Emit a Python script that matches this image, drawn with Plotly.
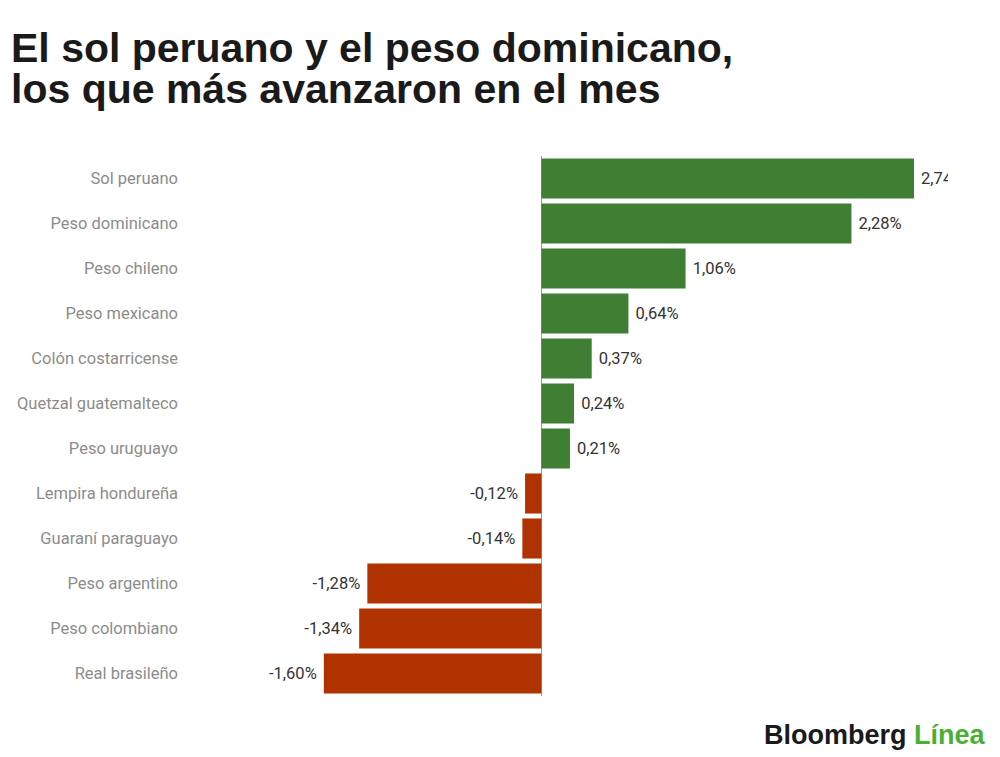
import plotly.graph_objects as go

# currencies, top to bottom
monedas = [
    "Sol peruano", "Peso dominicano", "Peso chileno", "Peso mexicano",
    "Colón costarricense", "Quetzal guatemalteco", "Peso uruguayo",
    "Lempira hondureña", "Guaraní paraguayo", "Peso argentino",
    "Peso colombiano", "Real brasileño",
]
variacion = [2.74, 2.28, 1.06, 0.64, 0.37, 0.24, 0.21,
             -0.12, -0.14, -1.28, -1.34, -1.60]

titulo_1 = "El sol peruano y el peso dominicano,"
titulo_2 = "los que más avanzaron en el mes"

VERDE = "#3e7f33"
ROJO = "#b03200"
NBSP = "\u00a0"

colores = [VERDE if v >= 0 else ROJO for v in variacion]
# pad the label on the side facing the bar
etiquetas = []
for v in variacion:
    s = f"{v:.2f}%".replace(".", ",")
    etiquetas.append(NBSP + s if v >= 0 else s + NBSP)

# margins (page body adds 8px offset)
L, R, T, B = 171, 60, 148, 69
plot_w = 1000 - L - R
plot_h = 757 - T - B


def px_x(p):
    return (p - L) / plot_w


def px_y(p):
    return 1 + (T - p) / plot_h


fig = go.Figure(go.Bar(
    x=variacion,
    y=monedas,
    orientation="h",
    marker=dict(color=colores, line=dict(width=0)),
    text=etiquetas,
    textposition="outside",
    textfont=dict(family="Roboto", size=16.5, color="#333333"),
    cliponaxis=True,
    hoverinfo="skip",
))

fig.update_layout(
    width=1000,
    height=757,
    paper_bgcolor="white",
    plot_bgcolor="white",
    margin=dict(l=L, r=R, t=T, b=B, autoexpand=False),
    bargap=0.11,
    showlegend=False,
    xaxis=dict(
        range=[-2.665, 2.99],
        showgrid=False,
        showticklabels=False,
        zeroline=True,
        zerolinecolor="#999999",
        zerolinewidth=1,
        automargin=False,
        fixedrange=True,
    ),
    yaxis=dict(
        autorange="reversed",
        showgrid=False,
        showline=False,
        ticks="",
        automargin=False,
        tickfont=dict(family="Roboto", size=16.5, color="#8c8c8c"),
        fixedrange=True,
    ),
)

for linea, yp in [(titulo_1, 40), (titulo_2, 81)]:
    fig.add_annotation(
        text=f"<b>{linea}</b>",
        xref="paper", yref="paper", x=px_x(1), y=px_y(yp),
        xanchor="left", yanchor="middle", showarrow=False,
        font=dict(family="Liberation Sans", size=41, color="#1a1a1a"),
    )

# logo text bottom right
fig.add_annotation(
    text="<b>Bloomberg</b> <b><span style='color:#4caf35'>Línea</span></b>",
    xref="paper", yref="paper", x=px_x(980), y=px_y(727),
    xanchor="right", yanchor="middle", showarrow=False,
    font=dict(family="Liberation Sans", size=27, color="#1a1a1a"),
)

fig.write_html("out.html")
